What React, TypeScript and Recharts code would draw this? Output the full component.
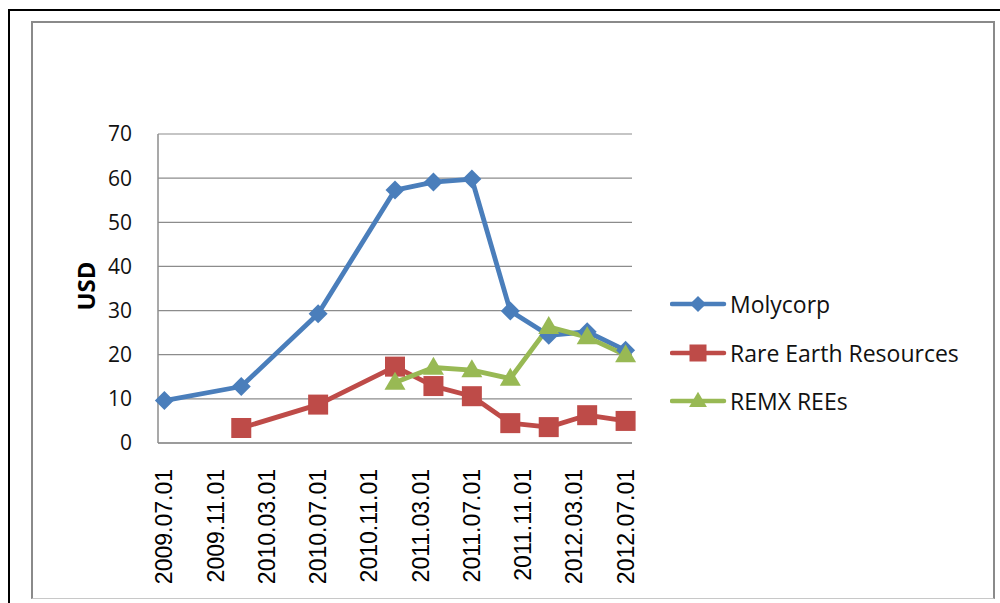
import React from "react";
import { CartesianGrid, Line, LineChart, XAxis, YAxis } from "recharts";

// month index, 0 = 2009.07
const months = [0, 6, 12, 18, 21, 24, 27, 30, 33, 36];
const molycorp = [9.6, 12.8, 29.3, 57.3, 59.1, 59.8, 29.9, 24.4, 25.2, 21.0];
const rareEarth = [null, 3.4, 8.7, 17.3, 12.9, 10.6, 4.5, 3.6, 6.3, 5.0];
const remx = [null, null, null, 13.7, 17.1, 16.5, 14.6, 26.3, 24.0, 19.9];

const tickMonths = [0, 4, 8, 12, 16, 20, 24, 28, 32, 36];
const tickLabels = [
  "2009.07.01",
  "2009.11.01",
  "2010.03.01",
  "2010.07.01",
  "2010.11.01",
  "2011.03.01",
  "2011.07.01",
  "2011.11.01",
  "2012.03.01",
  "2012.07.01",
];
const yTicks = [0, 10, 20, 30, 40, 50, 60, 70];

const BLUE = "#4A7EBB";
const RED = "#BE4B48";
const GREEN = "#98B954";

const data = months.map((m, i) => ({
  m,
  molycorp: molycorp[i],
  rare: rareEarth[i],
  remx: remx[i],
}));

const series = [
  { key: "molycorp", name: "Molycorp", color: BLUE, shape: "diamond" },
  { key: "rare", name: "Rare Earth Resources", color: RED, shape: "square" },
  { key: "remx", name: "REMX REEs", color: GREEN, shape: "triangle" },
];

function Marker({ cx, cy, shape, color, size = 1 }: any) {
  if (cx == null || cy == null) return null;
  if (shape === "diamond") {
    const r = 9.5 * size;
    return (
      <polygon
        points={`${cx},${cy - r} ${cx + r},${cy} ${cx},${cy + r} ${cx - r},${cy}`}
        fill={color}
      />
    );
  }
  if (shape === "square") {
    const r = 10 * size;
    return <rect x={cx - r} y={cy - r} width={2 * r} height={2 * r} fill={color} />;
  }
  const w = 10.5 * size;
  const h = 18 * size;
  return (
    <polygon
      points={`${cx},${cy - h * 0.6} ${cx + w},${cy + h * 0.4} ${cx - w},${cy + h * 0.4}`}
      fill={color}
    />
  );
}

function XTick({ x, y, payload }: any) {
  const idx = tickMonths.indexOf(payload.value);
  return (
    <text
      x={0}
      y={0}
      transform={`translate(${x + 8},${y + 18}) rotate(-90)`}
      textAnchor="end"
      fontFamily="'Liberation Sans', Arial, sans-serif"
      fontSize={23}
      fill="#000"
    >
      {tickLabels[idx]}
    </text>
  );
}

function LegendBox() {
  return (
    <div style={{ fontFamily: "'Open Sans', sans-serif", fontSize: 23, color: "#111" }}>
      {series.map((s) => (
        <div key={s.key} style={{ display: "flex", alignItems: "center", height: 48.5 }}>
          <svg width={58} height={24} style={{ marginRight: 2 }}>
            <line x1={2} y1={12} x2={54} y2={12} stroke={s.color} strokeWidth={4.5} strokeLinecap="round" />
            <Marker cx={28} cy={12} shape={s.shape} color={s.color} size={0.85} />
          </svg>
          <span>{s.name}</span>
        </div>
      ))}
    </div>
  );
}

export default function App() {
  return (
    <div
      style={{
        position: "absolute",
        left: 0,
        top: 0,
        width: 1000,
        height: 603,
        background: "#fff",
        overflow: "hidden",
      }}
    >
      <div
        style={{
          position: "absolute",
          left: 8,
          top: 9,
          width: 1100,
          height: 700,
          borderTop: "2px solid #000",
          borderLeft: "2px solid #000",
        }}
      />
      <div
        style={{
          position: "absolute",
          left: 31,
          top: 21,
          width: 960,
          height: 575,
          borderTop: "2px solid #8a8a8a",
          borderLeft: "2px solid #8a8a8a",
          borderRight: "2px solid #8a8a8a",
          borderBottom: "1px solid #c8c8c8",
        }}
      />
      <div
        style={{
          position: "absolute",
          left: 85,
          top: 286,
          transform: "translate(-50%, -50%) rotate(-90deg)",
          fontFamily: "'Open Sans', sans-serif",
          fontWeight: 700,
          fontSize: 24,
          color: "#000",
        }}
      >
        USD
      </div>
      <div style={{ position: "absolute", left: 0, top: 0 }}>
        <LineChart
          width={1000}
          height={603}
          data={data}
          margin={{ top: 134, right: 368, left: 98, bottom: 10 }}
        >
          <CartesianGrid horizontal vertical={false} stroke="#8c8c8c" strokeWidth={1.2} />
          <XAxis
            type="number"
            dataKey="m"
            domain={[-0.5, 36.5]}
            ticks={tickMonths}
            interval={0}
            tick={<XTick />}
            tickLine={false}
            axisLine={{ stroke: "#8c8c8c", strokeWidth: 1.5 }}
            height={150}
          />
          <YAxis
            type="number"
            domain={[0, 70]}
            ticks={yTicks}
            interval={0}
            width={60}
            tickLine={false}
            tickSize={0}
            tickMargin={26}
            axisLine={{ stroke: "#8c8c8c", strokeWidth: 1.5 }}
            tick={{ fontFamily: "'Open Sans', sans-serif", fontSize: 21, fill: "#111" }}
          />
          {series.map((s) => (
            <Line
              key={s.key}
              type="linear"
              dataKey={s.key}
              name={s.name}
              stroke={s.color}
              strokeWidth={4.8}
              strokeLinejoin="round"
              dot={(p: any) => <Marker key={`${s.key}-${p.index}`} cx={p.cx} cy={p.cy} shape={s.shape} color={s.color} />}
              activeDot={false}
              isAnimationActive={false}
            />
          ))}
        </LineChart>
      </div>
      <div style={{ position: "absolute", left: 670, top: 280, width: 320 }}>
        <LegendBox />
      </div>
    </div>
  );
}
